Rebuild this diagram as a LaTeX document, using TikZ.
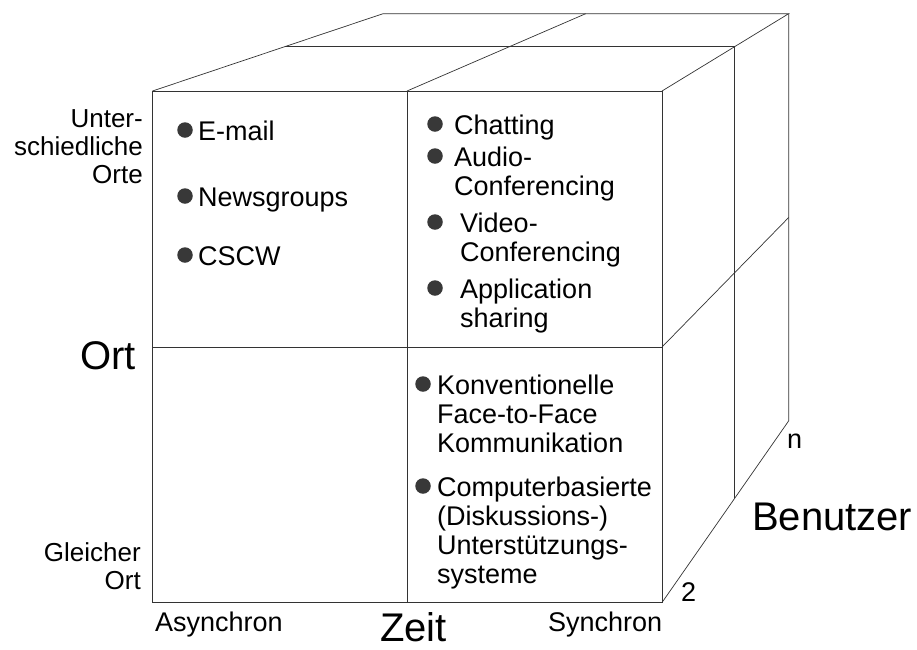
\documentclass[tikz,border=0pt]{standalone}
\usepackage{fontspec}
\setmainfont{Liberation Sans}
\usetikzlibrary{calc}
\begin{document}
\begin{tikzpicture}[x=1pt,y=-1pt,
  edge/.style={draw=black!80,line width=0.7pt},
  small/.style={font=\fontsize{27}{29}\selectfont,inner sep=0pt},
  side/.style={font=\fontsize{26}{28}\selectfont,inner sep=0pt,align=right,anchor=base east},
  big/.style={font=\fontsize{40}{44}\selectfont,inner sep=0pt},
  dot/.style={circle,fill=black!78,minimum size=15.5pt,inner sep=0pt}]
\useasboundingbox (0,0) rectangle (917,649);

% vanishing point and front face
\coordinate (VP)  at (1283,-288);
\coordinate (FTL) at (152.5,91);
\coordinate (FTM) at (407,91);
\coordinate (FTR) at (662,91);
\coordinate (FML) at (152.5,347);
\coordinate (FMR) at (662,347);
\coordinate (FBL) at (152.5,602.5);
\coordinate (FBM) at (407,602.5);
\coordinate (FBR) at (662,602.5);
% middle layer and back layer
\coordinate (MTL) at ($(VP)!0.883!(FTL)$);
\coordinate (MTR) at ($(VP)!0.883!(FTR)$);
\coordinate (MBR) at ($(VP)!0.883!(FBR)$);
\coordinate (BTL) at ($(VP)!0.796!(FTL)$);
\coordinate (BTM) at ($(VP)!0.796!(FTM)$);
\coordinate (BTR) at ($(VP)!0.796!(FTR)$);
\coordinate (BMR) at ($(VP)!0.796!(FMR)$);
\coordinate (BBR) at ($(VP)!0.796!(FBR)$);

% front face
\draw[edge] (FTL) rectangle (FBR);
\draw[edge] (FTM) -- (FBM);
\draw[edge] (FML) -- (FMR);
% top face
\draw[edge] (FTL) -- (BTL) -- (BTR) -- (FTR);
\draw[edge] (FTM) -- (BTM);
\draw[edge] (MTL) -- (MTR);
% right face
\draw[edge] (BTR) -- (BBR) -- (FBR);
\draw[edge] (MTR) -- (MBR);
\draw[edge] (FMR) -- (BMR);

% axis labels (multi-line nodes are placed by their last baseline)
\node[side] (orte) at (143,183) {Unter-\\schiedliche\\Orte};
\node[big,anchor=base east] (ort) at (136,369) {Ort};
\node[side] (gleich) at (141,589) {Gleicher\\Ort};
\node[small,anchor=base west] (async) at (155,631) {Asynchron};
\node[big,anchor=base west] (zeit) at (380,641) {Zeit};
\node[small,anchor=base west] (sync) at (548,631) {Synchron};
\node[big,anchor=base west] (benutzer) at (752,530) {Benutzer};
\node[small,anchor=base west] (nn) at (787,448) {n};
\node[small,anchor=base west] (zwei) at (681,601) {2};

% asynchronous, distributed
\node[dot] (b1) at (185,130) {};
\node[small,anchor=base west] (t1) at (198,140) {E-mail};
\node[dot] (b2) at (185,196) {};
\node[small,anchor=base west] (t2) at (198,206) {Newsgroups};
\node[dot] (b3) at (185,255) {};
\node[small,anchor=base west] (t3) at (198,265) {CSCW};

% synchronous, distributed
\node[dot] (b4) at (435,124) {};
\node[small,anchor=base west] (t4) at (454,134) {Chatting};
\node[dot] (b5) at (435,156) {};
\node[small,anchor=base west,align=left] (t5) at (454,195) {Audio-\\Conferencing};
\node[dot] (b6) at (435,222) {};
\node[small,anchor=base west,align=left] (t6) at (460,261) {Video-\\Conferencing};
\node[dot] (b7) at (435,288) {};
\node[small,anchor=base west,align=left] (t7) at (460,327) {Application\\sharing};

% synchronous, same place
\node[dot] (b8) at (423,384) {};
\node[small,anchor=base west,align=left] (t8) at (437,452) {Konventionelle\\Face-to-Face\\Kommunikation};
\node[dot] (b9) at (423,486) {};
\node[small,anchor=base west,align=left] (t9) at (437,583) {Computerbasierte\\(Diskussions-)\\Unterstützungs-\\systeme};
\end{tikzpicture}
\end{document}
